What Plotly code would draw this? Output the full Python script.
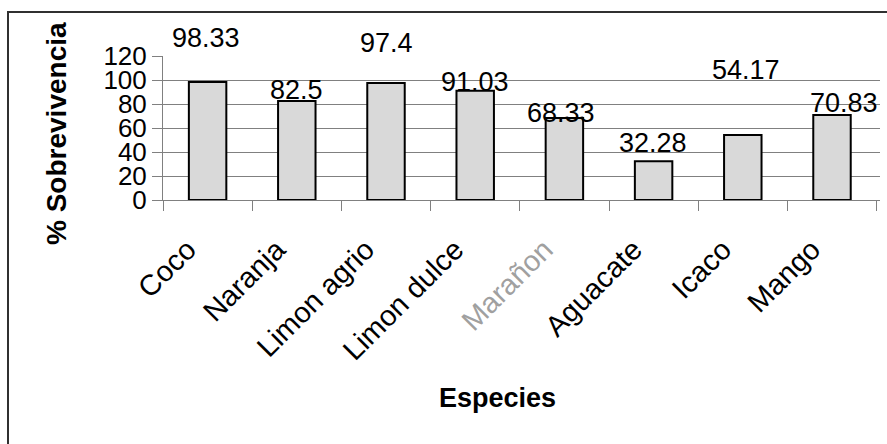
import plotly.graph_objects as go

# Survival percentage per species
especies = ["Coco", "Naranja", "Limon agrio", "Limon dulce", "Marañon",
            "Aguacate", "Icaco", "Mango"]
sobrevivencia = [98.33, 82.5, 97.4, 91.03, 68.33, 32.28, 54.17, 70.83]
y_ticks = [0, 20, 40, 60, 80, 100, 120]

# label placement offsets (pixels) relative to the top of each bar
label_dy = [44, 11, 40, 9, 5, 18, 65, 12]
label_dx = [-2, 0, 0, 0, -3, -1, 3, 12]

FONT = "Liberation Sans, Arial, sans-serif"
W, H = 887, 444
L, R, T, B = 163, 7, 56, 244
pw, ph = W - L - R, H - T - B

def px_x(px):
    return (px - L) / pw

def px_y(py):
    return (H - B - py) / ph

tick_text = [
    f'<span style="color:#a0a0a0">{e}</span>' if e == "Marañon" else e
    for e in especies
]

fig = go.Figure(
    go.Bar(
        x=especies,
        y=sobrevivencia,
        marker=dict(color="#d9d9d9", line=dict(color="#000000", width=2)),
        hoverinfo="x+y",
    )
)

annotations = [
    dict(x=e, y=v, xref="x", yref="y", text=str(v), showarrow=False,
         yanchor="middle", xanchor="center", yshift=dy, xshift=dx,
         font=dict(family=FONT, size=27, color="#000000"))
    for e, v, dy, dx in zip(especies, sobrevivencia, label_dy, label_dx)
]
annotations.append(
    dict(x=px_x(497), y=px_y(398), xref="paper", yref="paper",
         text="<b>Especies</b>", showarrow=False,
         xanchor="center", yanchor="middle",
         font=dict(family=FONT, size=27, color="#000000"))
)
annotations.append(
    dict(x=px_x(56), y=px_y(134), xref="paper", yref="paper",
         text="<b>% Sobrevivencia</b>", showarrow=False, textangle=-90,
         xanchor="center", yanchor="middle",
         font=dict(family=FONT, size=28, color="#000000"))
)

fig.update_layout(
    width=W, height=H,
    margin=dict(l=L, r=R, t=T, b=B, pad=0),
    paper_bgcolor="#ffffff",
    plot_bgcolor="#ffffff",
    bargap=0.58,
    showlegend=False,
    font=dict(family=FONT, size=26, color="#000000"),
    annotations=annotations,
    shapes=[
        dict(type="rect", xref="paper", yref="paper",
             x0=px_x(8), x1=px_x(905), y0=px_y(470), y1=px_y(12),
             line=dict(color="#303030", width=2), fillcolor="rgba(0,0,0,0)",
             layer="below")
    ],
    xaxis=dict(
        tickmode="array", tickvals=especies, ticktext=tick_text,
        tickangle=-45, tickson="boundaries",
        ticks="outside", ticklen=10, tickcolor="#808080", tickwidth=1,
        ticklabelstandoff=20, ticklabelshift=-20,
        showline=True, linecolor="#808080", linewidth=1,
        showgrid=False, zeroline=False,
        tickfont=dict(family=FONT, size=29, color="#000000"),
    ),
    yaxis=dict(
        range=[0, 120], tickmode="array", tickvals=y_ticks,
        ticktext=[str(t) for t in y_ticks],
        ticks="outside", ticklen=10, tickcolor="#808080", tickwidth=1,
        showline=True, linecolor="#808080", linewidth=1,
        showgrid=True, gridcolor="#808080", gridwidth=1,
        zeroline=False,
        tickfont=dict(family=FONT, size=26, color="#000000"),
    ),
)

fig.write_html("out.html")
